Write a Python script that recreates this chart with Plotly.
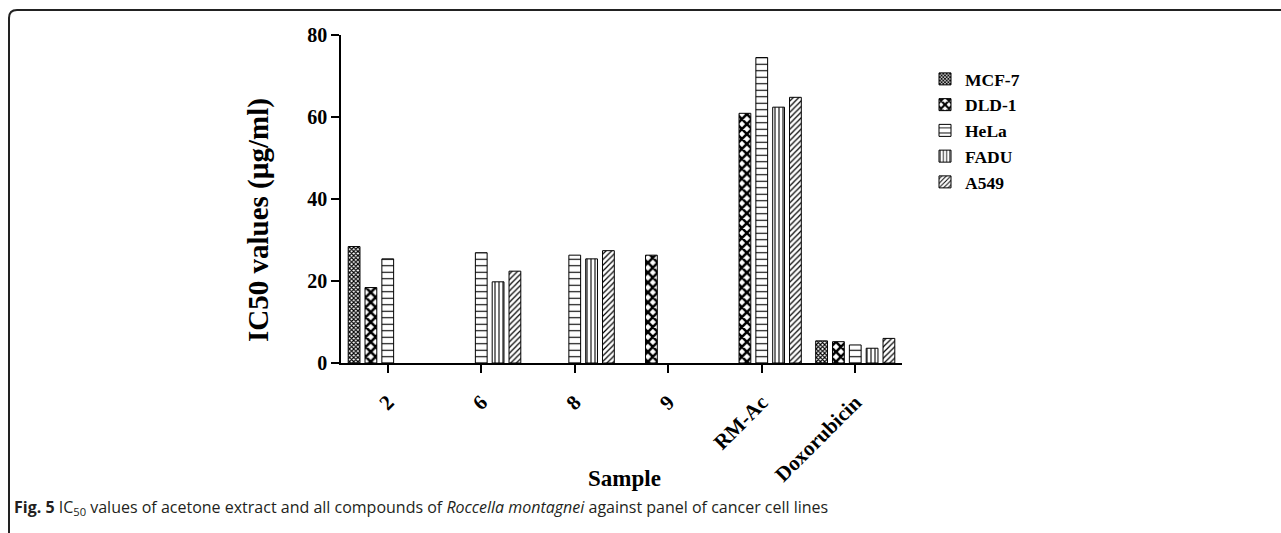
import plotly.graph_objects as go

categories = ["2", "6", "8", "9", "RM-Ac", "Doxorubicin"]
mcf7 = [28.4, None, None, None, None, 5.4]
dld1 = [18.4, None, None, 26.3, 60.9, 5.2]
hela = [25.4, 26.9, 26.3, None, 74.5, 4.4]
fadu = [None, 19.8, 25.4, None, 62.4, 3.6]
a549 = [None, 22.4, 27.4, None, 64.8, 6.0]
y_ticks = [0, 20, 40, 60, 80]

series = [
    ("MCF-7", mcf7, dict(shape="x", size=3, solidity=0.6)),
    ("DLD-1", dld1, dict(shape="x", size=7, solidity=0.6)),
    ("HeLa", hela, dict(shape="-", size=6.5, solidity=0.17)),
    ("FADU", fadu, dict(shape="|", size=4, solidity=0.27)),
    ("A549", a549, dict(shape="/", size=4, solidity=0.3)),
]

fig = go.Figure()
for name, vals, pat in series:
    fig.add_trace(go.Bar(
        x=categories, y=vals, name=name,
        marker=dict(color="white", line=dict(color="black", width=1),
                    pattern=dict(fgcolor="black", bgcolor="white", fillmode="replace", **pat)),
    ))

L, R, T, B = 341, 902, 35, 363
W, H = 1281, 533
pw, ph = R - L, B - T

def px(x):
    return (x - L) / pw

def py(y):
    return (B - y) / ph

serif = "Liberation Serif"
fig.update_layout(
    width=W, height=H,
    margin=dict(l=L, r=W - R, t=T, b=H - B, pad=0),
    paper_bgcolor="white", plot_bgcolor="white",
    barmode="group", bargap=0.1, bargroupgap=0.3,
    font=dict(family=serif, color="black", size=17),
    showlegend=True,
    legend=dict(x=px(925), y=py(61), xanchor="left", yanchor="top",
                font=dict(family=serif, size=17.5, color="black", weight="bold"),
                itemwidth=30, tracegroupgap=0, bgcolor="rgba(0,0,0,0)"),
    xaxis=dict(
        type="category", range=[-0.5, 5.5],
        showline=True, linecolor="black", linewidth=1.5,
        ticks="outside", ticklen=8, tickcolor="black", tickwidth=1.5,
        tickangle=-45, ticklabelstandoff=9,
        tickfont=dict(family=serif, size=21, color="black", weight="bold"),
        showgrid=False, zeroline=False,
    ),
    yaxis=dict(
        range=[0, 80], tickvals=y_ticks,
        showline=True, linecolor="black", linewidth=1.5,
        ticks="outside", ticklen=8, tickcolor="black", tickwidth=1.5,
        tickfont=dict(family=serif, size=20, color="black", weight="bold"),
        showgrid=False, zeroline=False,
    ),
)

# axis titles
fig.add_annotation(xref="paper", yref="paper", x=px(259), y=py(220), textangle=-90,
                   showarrow=False, xanchor="center", yanchor="middle",
                   text="<b>IC50 values (µg/ml)</b>",
                   font=dict(family=serif, size=29, color="black"))
fig.add_annotation(xref="paper", yref="paper", x=px(624), y=py(479),
                   showarrow=False, xanchor="center", yanchor="middle",
                   text="<b>Sample</b>",
                   font=dict(family=serif, size=23, color="black"))

# Figure frame (rounded top-left corner)
fig.add_shape(type="path", xref="paper", yref="paper",
              path=f"M {px(9)},{py(545)} L {px(9)},{py(18)} Q {px(9)},{py(10)} {px(17)},{py(10)} L {px(1290)},{py(10)}",
              line=dict(color="#222", width=2))

fig.add_annotation(
    xref="paper", yref="paper", x=px(12), y=py(507), xanchor="left", yanchor="middle",
    showarrow=False,
    text="<b>Fig. 5</b> IC<sub>50</sub> values of acetone extract and all compounds of <i>Roccella montagnei</i> against panel of cancer cell lines",
    font=dict(family="Open Sans", size=16, color="#231f20"),
)

fig.write_html("out.html")
